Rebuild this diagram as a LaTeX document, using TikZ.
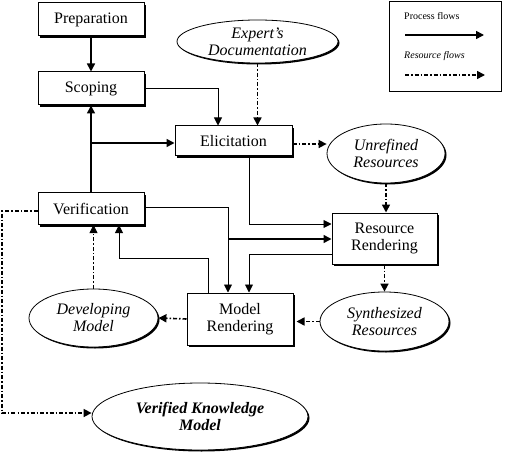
\documentclass[tikz,border=0pt]{standalone}
\usepackage{fontspec}
\setmainfont{Liberation Serif}
\usetikzlibrary{arrows.meta,shapes.geometric,shadows}
\tikzset{
  procbox/.style={draw, line width=1pt, fill=white, rectangle, inner sep=1pt,
    font=\fontsize{16}{17}\selectfont, align=center,
    drop shadow={shadow xshift=2pt, shadow yshift=-2pt, opacity=1, fill=black}},
  resell/.style={draw, line width=0.8pt, fill=white, ellipse, inner sep=0pt,
    font=\fontsize{16}{17}\selectfont\itshape, align=center,
    drop shadow={shadow xshift=1.5pt, shadow yshift=-1.5pt, opacity=1, fill=black}},
  tip/.style={-{Triangle[length=8pt,width=8pt]}},
  pflow/.style={tip, line width=1.6pt},
  pthin/.style={tip, line width=0.9pt},
  rflow/.style={tip, line width=1.6pt, dash pattern=on 4pt off 2pt on 1.5pt off 2pt},
  rthin/.style={tip, line width=0.8pt, dash pattern=on 4pt off 2pt on 1.5pt off 2pt},
}
\begin{document}
\begin{tikzpicture}[x=1pt,y=-1pt]
\useasboundingbox (0,0) rectangle (508,457);
% boxes
\node[procbox, minimum width=106pt, minimum height=33pt] (prep) at (91,19.5) {Preparation};
\node[procbox, minimum width=106pt, minimum height=33pt] (scop) at (91,88.5) {Scoping};
\node[procbox, minimum width=117pt, minimum height=30pt] (elic) at (233.5,141) {Elicitation};
\node[procbox, minimum width=106pt, minimum height=32pt] (veri) at (91,208.5) {Verification};
\node[procbox, minimum width=105pt, minimum height=51pt] (resr) at (384.5,238.5) {Resource\\Rendering};
\node[procbox, minimum width=106pt, minimum height=52pt] (modr) at (240,319) {Model\\Rendering};
% ellipses
\node[resell, minimum width=161pt, minimum height=43pt] (expd) at (257.5,41.5) {Expert's\\Documentation};
\node[resell, minimum width=118pt, minimum height=59pt] (unre) at (386,153.5) {Unrefined\\Resources};
\node[resell, minimum width=129pt, minimum height=59pt] (synr) at (384.5,321.5) {Synthesized\\Resources};
\node[resell, minimum width=129pt, minimum height=58pt] (devm) at (93.5,318) {Developing\\Model};
\node[resell, minimum width=216pt, minimum height=67pt, font=\fontsize{16}{17}\selectfont\bfseries\itshape] (vkm) at (200,416.5) {Verified Knowledge\\Model};
% legend
\node[draw, line width=1pt, minimum width=112pt, minimum height=90pt, inner sep=0pt] (leg) at (445,47) {};
\node[anchor=west, inner sep=0pt, font=\fontsize{10}{11}\selectfont] (lp) at (404,16) {Process flows};
\node[anchor=west, inner sep=0pt, font=\fontsize{10}{11}\selectfont\itshape] (lr) at (404,56) {Resource flows};
\coordinate (lpa) at (405,35); \coordinate (lpb) at (484,35);
\coordinate (lra) at (405,75); \coordinate (lrb) at (485,75);
\draw[pflow] (lpa) -- (lpb);
\draw[rflow] (lra) -- (lrb);
% process flows
\draw[pflow] (prep) -- (scop);
\draw[pthin] (scop.east |- 0,88) -| (elic.north -| 218,0);
\draw[pflow] (veri.north) -- (scop.south);
\coordinate (br1) at (91,143);
\draw[pflow] (br1) -- (elic.west |- br1);
\draw[pthin] (elic.south -| 249,0) |- (resr.west |- 0,224);
\draw[pthin] (veri.east |- 0,207) -| (modr.north -| 228,0);
\coordinate (br2) at (228,239);
\draw[pflow] (br2) -- (resr.west |- br2);
\draw[pthin] (resr.west |- 0,254) -| (modr.north -| 249,0);
\draw[pthin] (modr.north -| 208,0) |- (119,258) -- (veri.south -| 119,0);
% resource flows
\draw[rflow] (expd.south) -- (elic.north -| expd.south);
\draw[rflow] (elic.east |- 0,144) -- (unre.west |- 0,144);
\draw[rflow] (unre.south) -- (resr.north -| unre.south);
\draw[rflow] (resr.south -| synr.north) -- (synr.north);
\draw[rflow] (synr.west) -- ([xshift=3pt]modr.east |- synr.west);
\draw[rflow] (modr.west) -- (devm.east);
\draw[rthin] (devm.north) -- (veri.south -| devm.north);
\draw[rflow] (veri.west |- 0,211) -| (2,413) -- (vkm.west |- 0,413);
\end{tikzpicture}
\end{document}
